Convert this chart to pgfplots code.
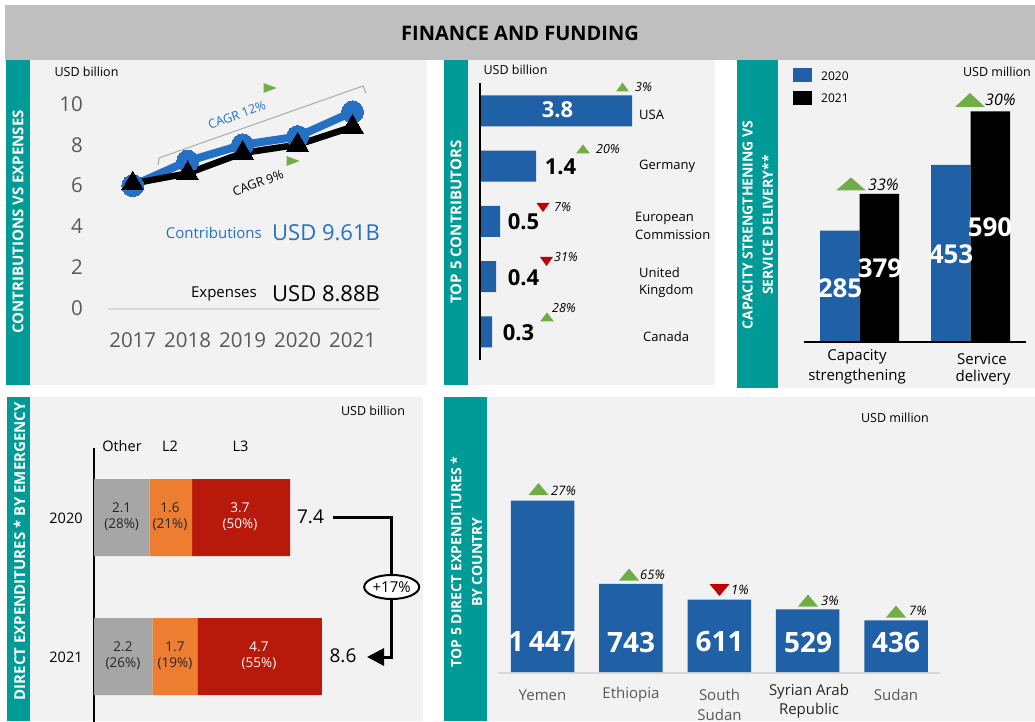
\documentclass[border=0pt]{standalone}
\usepackage{fontspec}
\setmainfont{Open Sans}
\usepackage{pgfplots}
\pgfplotsset{compat=1.18}
\usetikzlibrary{shapes.geometric,arrows.meta}
\definecolor{sideteal}{RGB}{0,155,150}
\definecolor{panelbg}{RGB}{242,242,242}
\definecolor{titlebg}{RGB}{191,191,191}
\definecolor{lineblue}{RGB}{36,112,196}
\definecolor{barblue}{RGB}{31,96,167}
\definecolor{upgreen}{RGB}{112,173,71}
\definecolor{downred}{RGB}{192,0,0}
\definecolor{seggray}{RGB}{166,166,166}
\definecolor{segorange}{RGB}{237,125,49}
\definecolor{segred}{RGB}{183,25,10}
\definecolor{tickgray}{RGB}{89,89,89}
\definecolor{basegray}{RGB}{217,217,217}
\definecolor{bracketgray}{RGB}{170,170,170}
\newcommand{\fs}[1]{\fontsize{#1}{#1}\selectfont}
\newcommand{\fsl}[2]{\fontsize{#1}{#2}\selectfont}
\newcommand{\upT}[4]{\fill[upgreen] (#1-#3,#2-#4) -- (#1+#3,#2-#4) -- (#1,#2+#4) -- cycle;}
\newcommand{\dnT}[4]{\fill[downred] (#1-#3,#2+#4) -- (#1+#3,#2+#4) -- (#1,#2-#4) -- cycle;}
\newcommand{\rtT}[4]{\fill[upgreen] (#1-#3,#2+#4) -- (#1-#3,#2-#4) -- (#1+#3,#2) -- cycle;}
\begin{document}
\begin{tikzpicture}[x=1pt,y=1pt]
\useasboundingbox (0,0) rectangle (1035,721);
\clip (0,0) rectangle (1035,721);
\fill[white] (0,0) rectangle (1035,721);
\fill[titlebg] (5,661) rectangle (1035,716);
\node[font=\bfseries\fs{20}] at (520,688) {FINANCE AND FUNDING};
% panel backgrounds
\fill[sideteal] (6,336) rectangle (30,661);
\fill[panelbg] (30,336) rectangle (427,661);
\fill[sideteal] (444,336) rectangle (468,661);
\fill[panelbg] (468,336) rectangle (715,661);
\fill[sideteal] (737,333) rectangle (778,661);
\fill[panelbg] (778,333) rectangle (1035,661);
\fill[sideteal] (7,0) rectangle (30,324);
\fill[panelbg] (30,0) rectangle (423,324);
\fill[sideteal] (444,0) rectangle (487,324);
\fill[panelbg] (487,0) rectangle (1035,324);
% side titles
\node[rotate=90, text=white, font=\bfseries\fs{15}] at (18,499) {CONTRIBUTIONS VS EXPENSES};
\node[rotate=90, text=white, font=\bfseries\fs{15}] at (456,499) {TOP 5 CONTRIBUTORS};
\node[rotate=90, text=white, font=\bfseries\fs{14}] at (747.5,496) {CAPACITY STRENGTHENING VS};
\node[rotate=90, text=white, font=\bfseries\fs{14}] at (767.5,496) {SERVICE DELIVERY**};
\node[rotate=90, anchor=east, inner sep=0pt, text=white, font=\bfseries\fs{15}] at (19.5,319) {DIRECT EXPENDITURES * BY EMERGENCY};
\node[rotate=90, text=white, font=\bfseries\fs{14}] at (456,159) {TOP 5 DIRECT EXPENDITURES *};
\node[rotate=90, text=white, font=\bfseries\fs{14}] at (477,159) {BY COUNTRY};

% ===== Panel 1: contributions vs expenses
\begin{axis}[at={(108pt,413pt)}, anchor=south west, scale only axis,
  width=272pt, height=214.2pt, xmin=2016.55, xmax=2021.5, ymin=0, ymax=10.5,
  axis x line=bottom, axis y line=left, axis line style={draw=none},
  major tick length=0pt,
  xtick={2017,2018,2019,2020,2021}, xticklabels={2017,2018,2019,2020,2021},
  ytick={0,2,4,6,8,10}, yticklabels={0,2,4,6,8,10},
  xticklabel style={font=\fs{20.5}, text=tickgray, anchor=center, yshift=-32pt},
  yticklabel style={font=\fs{20.5}, text=tickgray, anchor=east, inner sep=0pt, xshift=-25pt},
  clip=false]
\draw[basegray, line width=1.5pt] (axis cs:2016.55,-0.05) -- (axis cs:2021.5,-0.05);
\addplot[lineblue, line width=8pt, mark=*, mark size=11pt,
  mark options={fill=lineblue, draw=lineblue, line width=0pt}]
  coordinates {(2017,6.0) (2018,7.2) (2019,8.0) (2020,8.4) (2021,9.61)};
\addplot[black, line width=6.5pt, mark=triangle*, mark size=12.5pt,
  mark options={fill=black, draw=black, line width=0pt}]
  coordinates {(2017,6.1) (2018,6.6) (2019,7.6) (2020,8.0) (2021,8.88)};
\end{axis}
\node[font=\fs{12.5}] at (86.5,649) {USD billion};
\draw[bracketgray, line width=1pt] (158,556) -- (159,563) -- (363,635) -- (366,628);
\node[rotate=20, text=lineblue, font=\fs{12.5}] at (237,606) {CAGR 12\%};
\node[rotate=20, font=\fs{12.5}] at (258,538) {CAGR 9\%};
\rtT{270}{633}{6.5}{5}
\rtT{293}{560}{6.5}{5}
\node[anchor=east, inner sep=0pt, text=lineblue, font=\fs{15}] at (262,488) {Contributions};
\node[anchor=west, inner sep=0pt, text=lineblue, font=\fs{22}] at (272,488) {USD 9.61B};
\node[anchor=east, inner sep=0pt, font=\fs{15}] at (257,427) {Expenses};
\node[anchor=west, inner sep=0pt, font=\fs{22}] at (272,427) {USD 8.88B};

% ===== Panel 2: top 5 contributors
\begin{axis}[at={(480pt,361.4pt)}, anchor=south west, scale only axis,
  width=240pt, height=276.25pt, xmin=0, xmax=6, ymin=-0.5, ymax=4.5, y dir=reverse,
  hide axis, xbar, bar width=31pt, clip=false]
\addplot[fill=barblue, draw=none] coordinates {(3.8,0) (1.4,1) (0.5,2) (0.4,3) (0.3,4)};
\draw[black, line width=2pt] (axis cs:0,-0.5) -- (axis cs:0,4.5);
\end{axis}
\node[font=\fs{12.5}] at (515.5,651) {USD billion};
\node[text=white, font=\bfseries\fs{22}] at (557.5,611) {3.8};
\node[font=\bfseries\fs{22}] at (560.5,554) {1.4};
\node[font=\bfseries\fs{22}] at (523.5,499) {0.5};
\node[font=\bfseries\fs{22}] at (523.5,443) {0.4};
\node[font=\bfseries\fs{22}] at (518.5,388) {0.3};
\node[anchor=west, inner sep=0pt, font=\fs{13}] at (639,606) {USA};
\node[anchor=west, inner sep=0pt, font=\fs{13}] at (639,555) {Germany};
\node[anchor=west, inner sep=0pt, font=\fs{13}] at (635,503) {European};
\node[anchor=west, inner sep=0pt, font=\fs{13}] at (635,486) {Commission};
\node[anchor=west, inner sep=0pt, font=\fs{13}] at (639,448) {United};
\node[anchor=west, inner sep=0pt, font=\fs{13}] at (639,430) {Kingdom};
\node[anchor=west, inner sep=0pt, font=\fs{13}] at (643,384) {Canada};
\upT{622.5}{634}{6.5}{4.5}
\node[anchor=west, inner sep=0pt, font=\itshape\fs{12.5}] at (635,634) {3\%};
\upT{583}{572}{7}{4.5}
\node[anchor=west, inner sep=0pt, font=\itshape\fs{12.5}] at (596,572) {20\%};
\dnT{543}{513.5}{6.5}{4.5}
\node[anchor=west, inner sep=0pt, font=\itshape\fs{12.5}] at (554,514) {7\%};
\dnT{546.5}{459.5}{6.5}{4.5}
\node[anchor=west, inner sep=0pt, font=\itshape\fs{12.5}] at (554,464) {31\%};
\upT{547}{404}{7}{4.5}
\node[anchor=west, inner sep=0pt, font=\itshape\fs{12.5}] at (552,413) {28\%};

% ===== Panel 3: capacity strengthening vs service delivery
\begin{axis}[at={(804pt,379pt)}, anchor=south west, scale only axis,
  width=222pt, height=254.15pt, xmin=-0.5, xmax=1.5, ymin=0, ymax=650,
  hide axis, ybar=0pt, bar width=39.5pt, clip=false]
\addplot[fill=barblue, draw=none] coordinates {(0,285) (1,453)};
\addplot[fill=black, draw=none] coordinates {(0,379) (1,590)};
\draw[black, line width=1.5pt] (axis cs:-0.5,0) -- (axis cs:1.5,0);
\end{axis}
\fill[barblue] (793,639) rectangle (812,653);
\fill[black] (793,616) rectangle (812,630);
\node[anchor=west, inner sep=0pt, font=\fs{12}] at (821,645) {2020};
\node[anchor=west, inner sep=0pt, font=\fs{12}] at (821,623) {2021};
\node[font=\fs{12.5}] at (997,649) {USD million};
\node[text=white, font=\bfseries\fs{26}] at (840,433) {285};
\node[text=white, font=\bfseries\fs{26}] at (880,453) {379};
\node[text=white, font=\bfseries\fs{26}] at (951,467) {453};
\node[text=white, font=\bfseries\fs{26}] at (990,494) {590};
\upT{851}{537}{15}{6.5}
\node[anchor=west, inner sep=0pt, font=\itshape\fs{16}] at (868,536) {33\%};
\upT{970}{621}{15}{7}
\node[anchor=west, inner sep=0pt, font=\itshape\fs{16}] at (985,621) {30\%};
\node[font=\fs{15}] at (857,364) {Capacity};
\node[font=\fs{15}] at (857,344) {strengthening};
\node[font=\fs{15}] at (982,362) {Service};
\node[font=\fs{15}] at (983,343) {delivery};

% ===== Panel 4: direct expenditures by emergency
\begin{axis}[at={(94pt,-5pt)}, anchor=south west, scale only axis,
  width=318pt, height=278pt, xmin=0, xmax=12, ymin=-0.5, ymax=1.5, y dir=reverse,
  hide axis, xbar stacked, bar width=77pt, clip=false]
\addplot[fill=seggray, draw=none] coordinates {(2.1,0) (2.2,1)};
\addplot[fill=segorange, draw=none] coordinates {(1.6,0) (1.7,1)};
\addplot[fill=segred, draw=none] coordinates {(3.7,0) (4.7,1)};
\draw[black, line width=2pt] (axis cs:0,-0.5) -- (axis cs:0,1.5);
\end{axis}
\node[font=\fs{12.5}] at (373,310) {USD billion};
\node[font=\fs{14.5}] at (122,275) {Other};
\node[font=\fs{14.5}] at (170,275) {L2};
\node[font=\fs{14.5}] at (240.5,275) {L3};
\node[font=\fs{14.5}] at (66,203) {2020};
\node[font=\fs{14.5}] at (66,64) {2021};
\node[align=center, text=black!85, font=\fsl{13.5}{16}] at (121.7,204) {2.1\\(28\%)};
\node[align=center, text=black!85, font=\fsl{13.5}{16}] at (170,204) {1.6\\(21\%)};
\node[align=center, text=white, font=\fsl{13.5}{16}] at (240,204) {3.7\\(50\%)};
\node[align=center, text=black!85, font=\fsl{13.5}{16}] at (123,65) {2.2\\(26\%)};
\node[align=center, text=black!85, font=\fsl{13.5}{16}] at (175,65) {1.7\\(19\%)};
\node[align=center, text=white, font=\fsl{13.5}{16}] at (259,65) {4.7\\(55\%)};
\node[font=\fs{19}] at (310.5,204) {7.4};
\node[font=\fs{19}] at (343,65) {8.6};
\draw[line width=3pt, line join=miter, -{Triangle[length=17pt,width=17pt]}] (333,204) -- (391.7,204) -- (391.7,64) -- (367,64);
\node[ellipse, draw, line width=2pt, fill=white, minimum width=55pt, minimum height=24pt, inner sep=0pt, font=\fs{15}] at (391.7,134) {+17\%};

% ===== Panel 5: top 5 direct expenditures by country
\begin{axis}[at={(498.3pt,49pt)}, anchor=south west, scale only axis,
  width=442pt, height=213.3pt, xmin=-0.5, xmax=4.5, ymin=0, ymax=1800,
  hide axis, ybar, bar width=63.5pt, clip=false]
\draw[basegray, line width=2pt] (axis cs:-0.5,-6) -- (axis cs:4.5,-6);
\addplot[fill=barblue, draw=none] coordinates {(0,1447) (1,743) (2,611) (3,529) (4,436)};
\end{axis}
\node[font=\fs{12.5}] at (895,303) {USD million};
\node[text=white, font=\bfseries\fs{28}] at (542.5,79) {1\,447};
\node[text=white, font=\bfseries\fs{28}] at (631,79) {743};
\node[text=white, font=\bfseries\fs{28}] at (719.5,79) {611};
\node[text=white, font=\bfseries\fs{28}] at (808,79) {529};
\node[text=white, font=\bfseries\fs{28}] at (896,79) {436};
\upT{538.5}{232}{10}{6}
\node[anchor=west, inner sep=0pt, font=\itshape\fs{13}] at (551,230) {27\%};
\upT{629}{146.5}{10}{6}
\node[anchor=west, inner sep=0pt, font=\itshape\fs{13}] at (640,146) {65\%};
\dnT{719.5}{131}{10}{6}
\node[anchor=west, inner sep=0pt, font=\itshape\fs{13}] at (731,131) {1\%};
\upT{808}{120.5}{10}{6}
\node[anchor=west, inner sep=0pt, font=\itshape\fs{13}] at (821,120) {3\%};
\upT{896}{109.5}{10}{6}
\node[anchor=west, inner sep=0pt, font=\itshape\fs{13}] at (909,110) {7\%};
\node[text=tickgray, font=\fs{15}] at (542.5,26) {Yemen};
\node[text=tickgray, font=\fs{15}] at (631,26) {Ethiopia};
\node[text=tickgray, font=\fs{15}] at (719.5,26) {South};
\node[text=tickgray, font=\fs{15}] at (719.5,6) {Sudan};
\node[text=black!85, font=\fs{15}] at (809,29) {Syrian Arab};
\node[text=black!85, font=\fs{15}] at (809,10) {Republic};
\node[text=tickgray, font=\fs{15}] at (896,26) {Sudan};
\end{tikzpicture}
\end{document}
